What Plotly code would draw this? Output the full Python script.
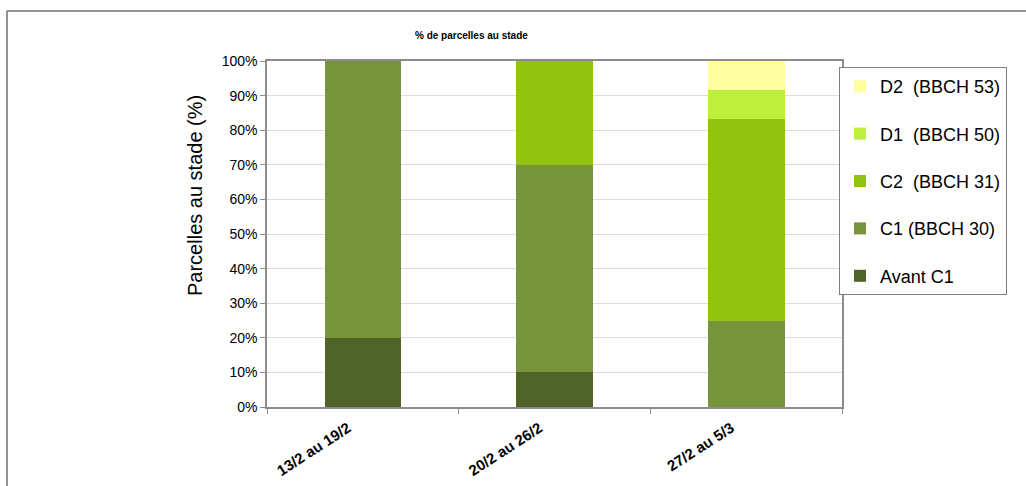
import plotly.graph_objects as go

categories = ["13/2 au 19/2", "20/2 au 26/2", "27/2 au 5/3"]
series_names = ["Avant C1", "C1 (BBCH 30)", "C2  (BBCH 31)", "D1  (BBCH 50)", "D2  (BBCH 53)"]
avant_c1 = [20, 10, 0]
c1 = [80, 60, 25]
c2 = [0, 30, 58.3]
d1 = [0, 0, 8.35]
d2 = [0, 0, 8.35]
colors = ["#4F6228", "#77933C", "#92C30E", "#BDEF3C", "#FFFFA0"]
y_ticks = [0, 10, 20, 30, 40, 50, 60, 70, 80, 90, 100]
y_ticktext = [f"{v}%" for v in y_ticks]

values = [avant_c1, c1, c2, d1, d2]

W, H = 1026, 486
L, R, T, B = 267, 842, 61, 407

fig = go.Figure()
n = len(series_names)
for i, (name, vals) in enumerate(zip(series_names, values)):
    fig.add_trace(go.Bar(
        x=categories, y=vals, name=name,
        marker=dict(color=colors[i], line=dict(width=0)),
        legendgroup=str(i), legendrank=n - i,
    ))

def px_x(p):
    return (p - L) / (R - L)

def px_y(p):
    return (B - p) / (B - T)

fig.update_layout(
    width=W, height=H,
    margin=dict(l=L, r=W - R, t=T, b=H - B, autoexpand=False),
    barmode="stack", bargap=0.6,
    plot_bgcolor="white", paper_bgcolor="white",
    font=dict(family="Liberation Sans, Arial, sans-serif", color="#000000"),
    showlegend=True,
    legend=dict(
        x=px_x(839), y=px_y(67), xanchor="left", yanchor="top",
        traceorder="grouped", tracegroupgap=21,
        bgcolor="white", bordercolor="#808080", borderwidth=1,
        font=dict(size=18, color="#000000"),
        itemwidth=30,
    ),
    xaxis=dict(
        automargin=False,
        showline=True, linecolor="#8C8C8C", linewidth=1.5, mirror=True,
        ticks="outside", tickson="boundaries", ticklen=5, tickcolor="#8C8C8C",
        tickangle=-33, ticklabelshift=-15, ticklabelstandoff=5,
        tickfont=dict(size=15, color="#000000", family="Liberation Sans, Arial, sans-serif", weight="bold"),
        showgrid=False,
    ),
    yaxis=dict(
        automargin=False,
        range=[0, 100], tickvals=y_ticks, ticktext=y_ticktext,
        showline=True, linecolor="#8C8C8C", linewidth=1.5, mirror=True,
        ticks="outside", ticklen=5, tickcolor="#8C8C8C",
        showgrid=True, gridcolor="#DDDDDD", gridwidth=1,
        tickfont=dict(size=14, color="#000000"),
    ),
    annotations=[
        dict(
            text="<b>% de parcelles au stade</b>", x=px_x(471), y=px_y(36),
            xref="paper", yref="paper", showarrow=False,
            font=dict(size=10, color="#000000"), xanchor="center", yanchor="middle",
        ),
        dict(
            text="Parcelles au stade (%)", x=px_x(195), y=px_y(196),
            xref="paper", yref="paper", showarrow=False, textangle=-90,
            font=dict(size=20, color="#000000"), xanchor="center", yanchor="middle",
        ),
    ],
    shapes=[
        dict(type="line", xref="paper", yref="paper", x0=px_x(7), x1=px_x(1030), y0=px_y(11), y1=px_y(11),
             line=dict(color="#707070", width=1.5)),
        dict(type="line", xref="paper", yref="paper", x0=px_x(7), x1=px_x(7), y0=px_y(11), y1=px_y(490),
             line=dict(color="#707070", width=1.5)),
    ],
)

fig.write_html("out.html", config={"displayModeBar": False},
               post_script="document.body.style.margin='0';document.body.style.overflow='hidden';")
